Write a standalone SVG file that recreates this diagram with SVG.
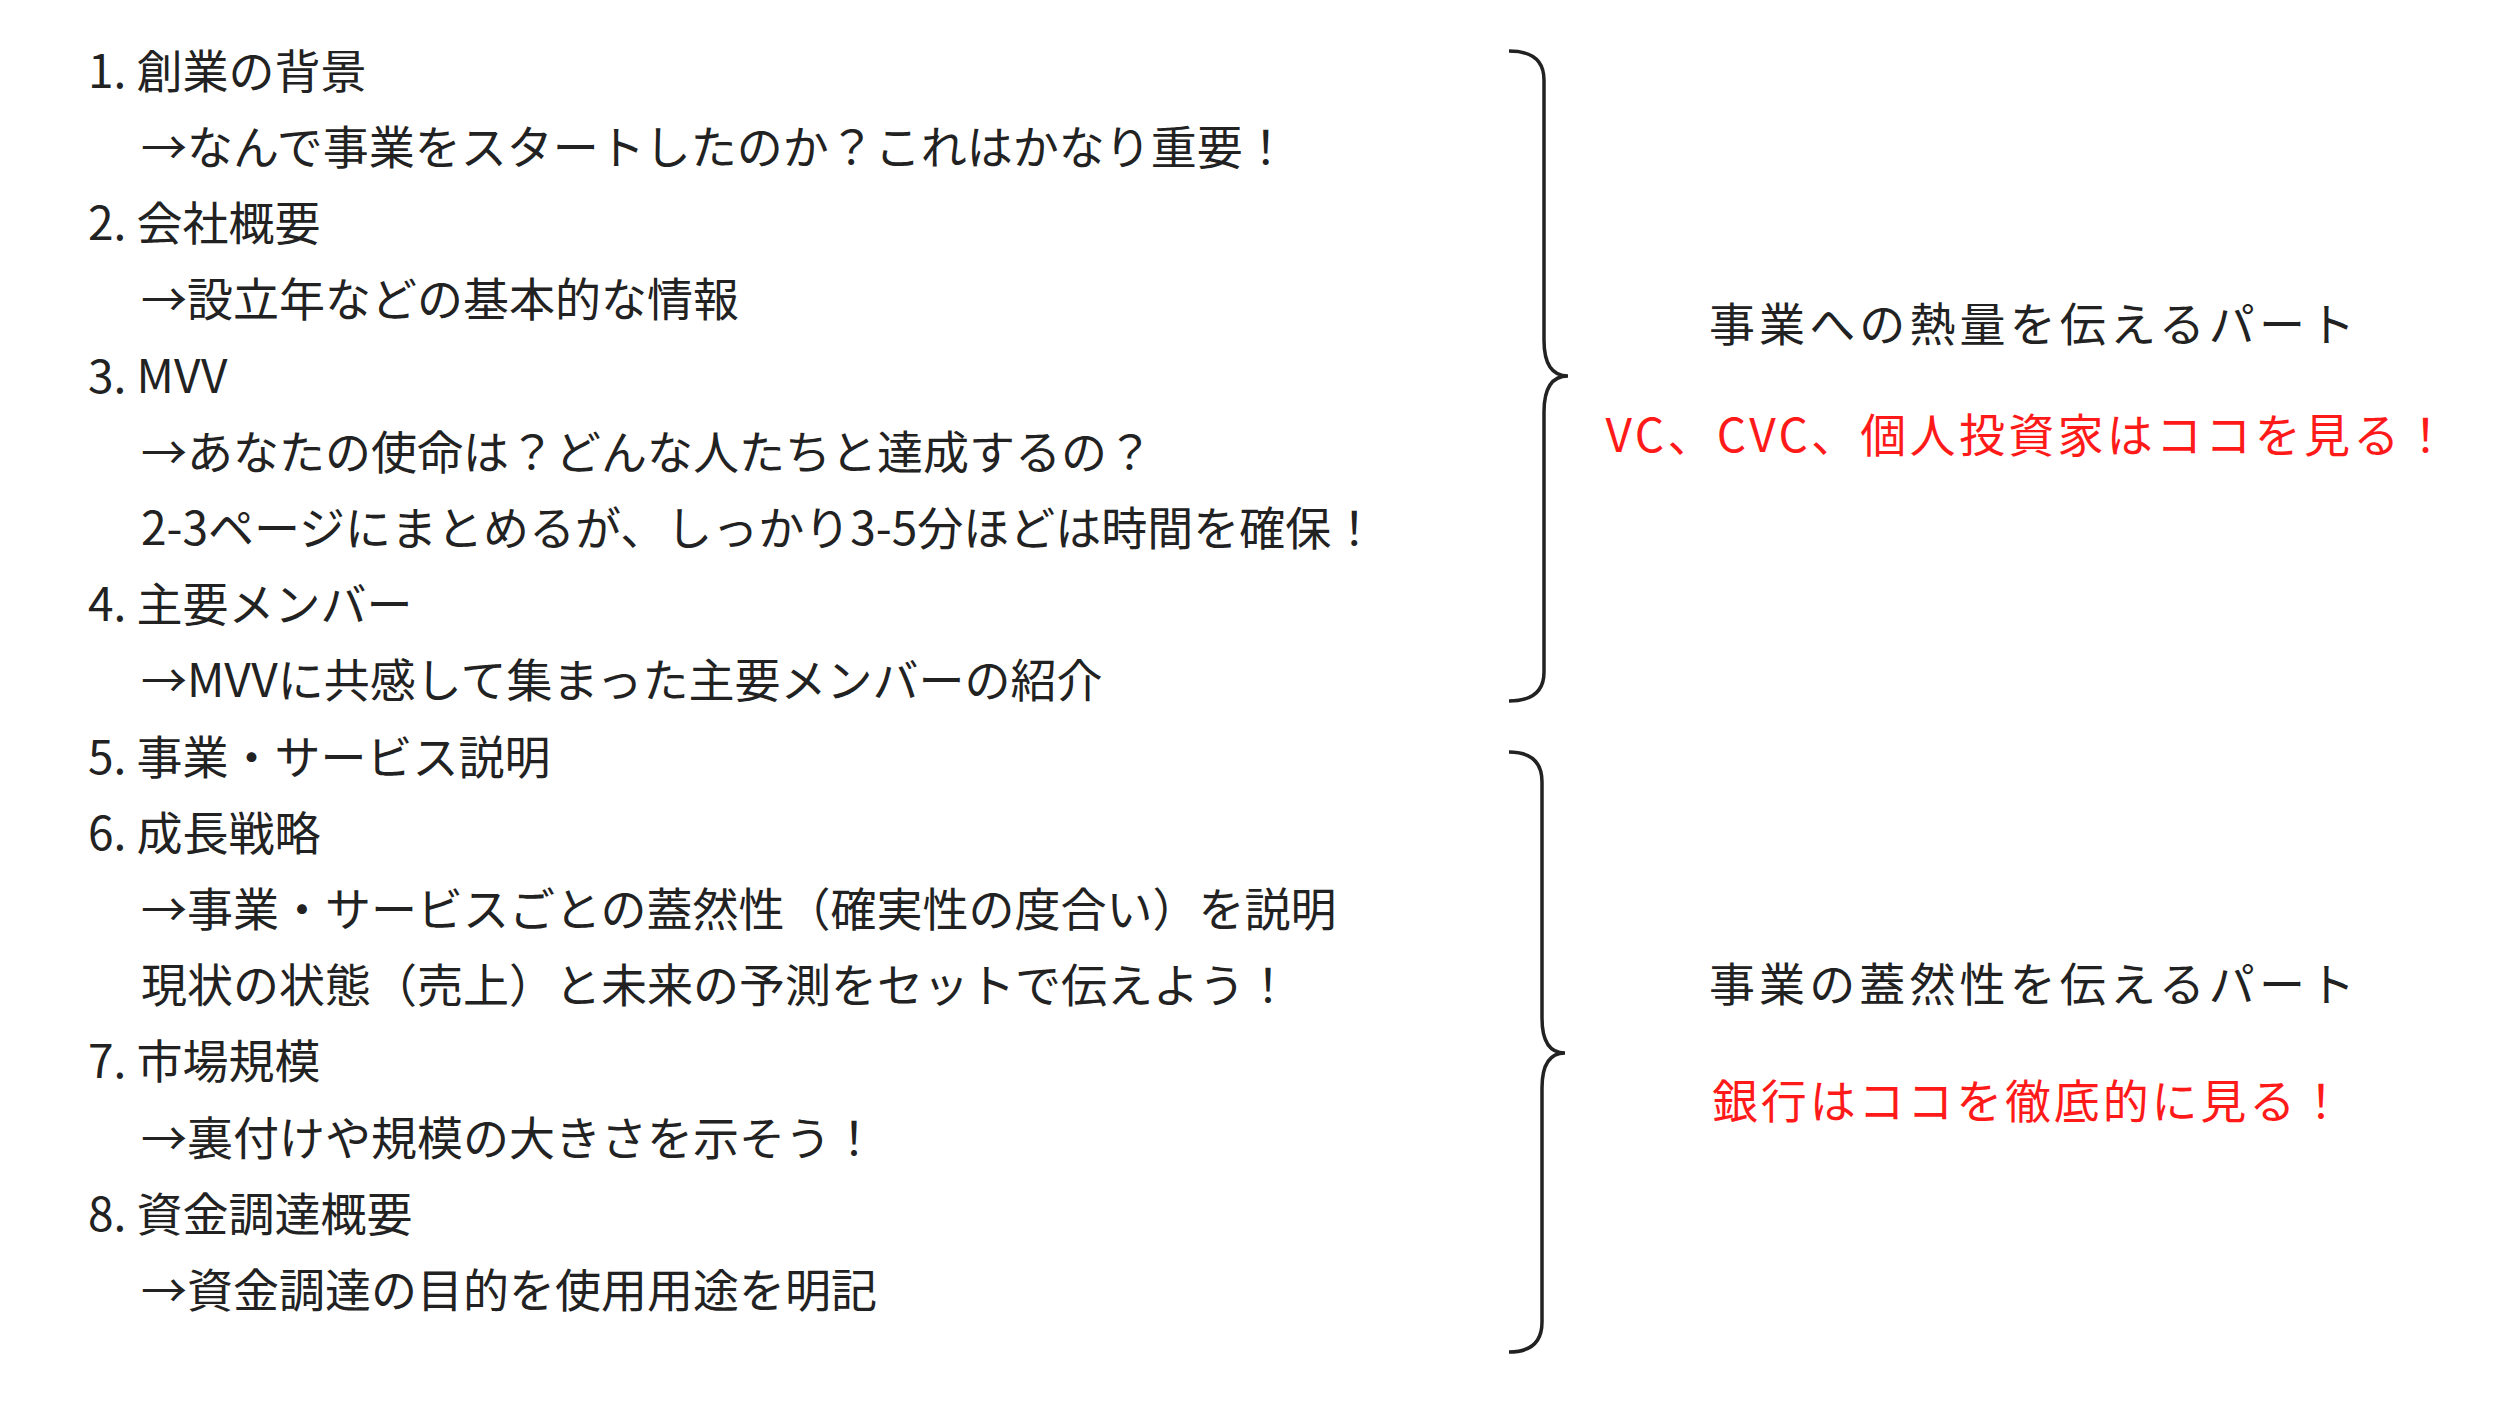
<svg xmlns="http://www.w3.org/2000/svg" width="2500" height="1406" viewBox="0 0 2500 1406">
<style>
.t{font-family:"Noto Sans CJK JP","Noto Sans",sans-serif;font-size:46px;fill:#222}
.r{font-family:"Noto Sans CJK JP","Noto Sans",sans-serif;font-size:46px;text-anchor:middle}
.br{fill:none;stroke:#222;stroke-width:3.5}
</style>
<rect width="2500" height="1406" fill="#fff"/>
<g id="list">
<text class="t" x="88" y="88">1. 創業の背景</text>
<text class="t" x="141" y="164">→なんで事業をスタートしたのか？これはかなり重要！</text>
<text class="t" x="88" y="240">2. 会社概要</text>
<text class="t" x="141" y="316">→設立年などの基本的な情報</text>
<text class="t" x="88" y="393">3. MVV</text>
<text class="t" x="141" y="469">→あなたの使命は？どんな人たちと達成するの？</text>
<text class="t" x="141" y="545">2-3ページにまとめるが、しっかり3-5分ほどは時間を確保！</text>
<text class="t" x="88" y="621">4. 主要メンバー</text>
<text class="t" x="141" y="697">→MVVに共感して集まった主要メンバーの紹介</text>
<text class="t" x="88" y="774">5. 事業・サービス説明</text>
<text class="t" x="88" y="850">6. 成長戦略</text>
<text class="t" x="141" y="926">→事業・サービスごとの蓋然性（確実性の度合い）を説明</text>
<text class="t" x="141" y="1002">現状の状態（売上）と未来の予測をセットで伝えよう！</text>
<text class="t" x="88" y="1078">7. 市場規模</text>
<text class="t" x="141" y="1155">→裏付けや規模の大きさを示そう！</text>
<text class="t" x="88" y="1231">8. 資金調達概要</text>
<text class="t" x="141" y="1307">→資金調達の目的を使用用途を明記</text>
</g>
<g id="connectors">
<path class="br" d="M1509,51 Q1544,51 1544,80 L1544,340 Q1544,376 1568,376 Q1544,376 1544,412 L1544,672 Q1544,701 1509,701"/>
<path class="br" d="M1509,752 Q1542,752 1542,782 L1542,1018 Q1542,1053 1565,1053 Q1542,1053 1542,1088 L1542,1322 Q1542,1352 1509,1352"/>
</g>
<g id="part1">
<text class="r" x="2032" y="341" fill="#222" textLength="646" lengthAdjust="spacing">事業への熱量を伝えるパート</text>
<text class="r" x="2027" y="452" fill="#ff1a1a" textLength="843" lengthAdjust="spacing">VC、CVC、個人投資家はココを見る！</text>
</g>
<g id="part2">
<text class="r" x="2032" y="1001" fill="#222" textLength="646" lengthAdjust="spacing">事業の蓋然性を伝えるパート</text>
<text class="r" x="2028" y="1118" fill="#ff1a1a" textLength="632" lengthAdjust="spacing">銀行はココを徹底的に見る！</text>
</g>
</svg>
